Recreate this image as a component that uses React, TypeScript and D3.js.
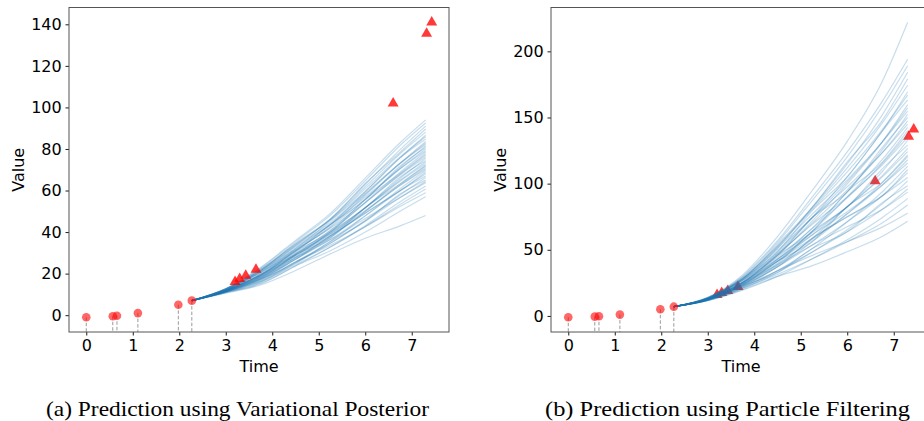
import React, { useEffect, useRef } from 'react';
import * as d3 from 'd3';

// observed points (circles with dashed stems)
const obsTimes = [0, 0.57, 0.66, 1.11, 1.98, 2.27];
const obsValues = [-1, -0.5, -0.3, 1, 5, 7];

// held-out future observations (triangles)
const futureTimes = [3.2, 3.3, 3.43, 3.65, 6.6, 7.32, 7.43];
const futureValues = [16, 17.5, 19, 22, 102, 135.5, 141];

// sampled trajectories: times after the last observation
const predTimes = [2.27, 3, 3.75, 4.5, 5.25, 6, 6.75, 7.3];

// (a) variational posterior samples, values at predTimes[1..]
const vpPaths: number[][] = [
  [11.0, 15.4, 23.7, 31, 40, 50, 57],
  [11.4, 17, 25.6, 33.7, 42.6, 52.3, 58.9],
  [11.2, 16.2, 24.3, 32.8, 42.6, 53.3, 60.7],
  [10.8, 15, 23.7, 32.8, 43.1, 54.6, 62.2],
  [11.8, 18.2, 27.6, 36.4, 46.5, 56.6, 63.7],
  [11.3, 16.6, 25.6, 34.6, 45.2, 56.6, 64.4],
  [11.6, 17.4, 25, 35.5, 45.2, 58.3, 65.1],
  [11, 15.8, 25, 34.6, 45.7, 57.9, 66.3],
  [12, 19, 28.9, 38.2, 49.1, 59.9, 67],
  [11.4, 17.4, 26.9, 36.4, 47.8, 59.9, 68.1],
  [11.2, 17.8, 26.9, 38.2, 49.1, 59.9, 68.8],
  [11.1, 16.2, 25.6, 35.5, 47.8, 60.9, 69.6],
  [12.2, 19.4, 29.5, 39.1, 50.4, 62.5, 70.3],
  [11.6, 18.2, 27.9, 37.8, 49.9, 62.5, 71.1],
  [11.8, 17.8, 28.9, 37.3, 51.7, 63.2, 71.8],
  [11.2, 17, 26.9, 37.3, 49.9, 63.2, 72.2],
  [12, 19.4, 29.5, 39.6, 51.7, 64.5, 72.9],
  [11.7, 18.6, 28.9, 39.1, 51.7, 64.9, 73.7],
  [11.4, 19, 28.2, 40, 51.7, 66.5, 74.4],
  [11.4, 17.4, 27.6, 38.2, 51.7, 65.8, 75.5],
  [12.4, 20.6, 31.5, 41.8, 54.3, 67.5, 76.2],
  [11.8, 19.4, 30.2, 40.7, 54, 67.8, 77],
  [12, 19, 30.8, 40, 55.6, 68.2, 77.7],
  [11.5, 18.2, 28.9, 40, 54.3, 68.8, 78.5],
  [12.6, 21.4, 32.8, 43.6, 56.9, 70.5, 79.2],
  [12, 19.8, 31.1, 42.2, 56.1, 70.5, 80],
  [11.8, 20.6, 30.8, 43.6, 55.6, 71.8, 80.7],
  [11.6, 18.6, 29.5, 40.9, 55.6, 71.1, 81.4],
  [12.6, 21.8, 33.4, 44.5, 58.7, 73.1, 82.2],
  [12.2, 20.6, 32.1, 43.6, 58.2, 73.1, 82.9],
  [11.8, 19.4, 30.8, 42.7, 57.7, 73.1, 83.6],
  [12.2, 21.4, 32.1, 45.4, 59.5, 75.7, 84.8],
  [12.7, 22.2, 34.1, 45.8, 60.8, 76.1, 85.9],
  [11.9, 19.8, 31.5, 43.6, 59.5, 75.7, 86.6],
  [12.4, 21.8, 34.1, 46.1, 61.8, 77.7, 88.1],
  [12.6, 21.4, 34.7, 46.3, 63.4, 78.4, 89.6],
  [12.2, 21, 33.4, 46.3, 62.9, 79.7, 91],
  [12.8, 22.6, 35.4, 48.1, 64.7, 81.7, 92.5],
  [12.7, 23, 36, 49, 66, 83, 94],
  [10.6, 14.5, 21.5, 29.5, 37, 43, 48],
];

// (b) particle filtering samples, values at predTimes[1..]
const pfPaths: number[][] = [
  [11.7, 20, 29.9, 38, 48.5, 60, 71.5],
  [12.2, 22.1, 34.2, 45.8, 56.1, 67.1, 77.6],
  [12, 21.1, 31.4, 43.2, 56.1, 70.2, 83.8],
  [11.5, 19.5, 29.9, 43.2, 57.6, 74.3, 88.7],
  [12.7, 23.7, 38.5, 53.6, 67.4, 80.4, 93.6],
  [12.1, 21.6, 34.2, 48.4, 63.6, 80.4, 96],
  [12.4, 22.7, 32.8, 51, 63.6, 85.5, 98.4],
  [11.7, 20.6, 32.8, 48.4, 65.1, 84.5, 102.1],
  [12.9, 24.8, 41.3, 58.8, 74.9, 90.6, 104.6],
  [12.2, 22.7, 37.1, 53.6, 71.2, 90.6, 108.3],
  [12, 23.2, 37.1, 58.8, 74.9, 90.6, 110.7],
  [11.8, 21.1, 34.2, 51, 71.2, 93.7, 113.2],
  [13.1, 25.3, 42.8, 61.4, 78.7, 98.8, 115.6],
  [12.4, 23.7, 39.3, 57.8, 77.2, 98.8, 118.1],
  [12.7, 23.2, 41.3, 56.2, 82.5, 100.8, 120.5],
  [12, 22.1, 37.1, 56.2, 77.2, 100.8, 121.7],
  [12.9, 25.3, 42.8, 63, 82.5, 104.9, 124.2],
  [12.5, 24.2, 41.3, 61.4, 82.5, 105.9, 126.6],
  [12.2, 24.8, 39.9, 64, 82.5, 111, 129.1],
  [12.2, 22.7, 38.5, 58.8, 82.5, 109, 132.8],
  [13.3, 26.9, 47, 69.2, 90, 114.1, 135.2],
  [12.7, 25.3, 44.2, 66.1, 89.3, 115.1, 137.7],
  [12.9, 24.8, 45.6, 64, 93.8, 116.1, 140.1],
  [12.3, 23.7, 41.3, 64, 90, 118.1, 142.6],
  [13.6, 27.9, 49.9, 74.4, 97.6, 123.2, 145],
  [12.9, 25.8, 46.2, 70.2, 95.3, 123.2, 147.5],
  [12.7, 26.9, 45.6, 74.4, 93.8, 127.3, 149.9],
  [12.4, 24.2, 42.8, 66.6, 93.8, 125.3, 152.4],
  [13.6, 28.4, 51.3, 77, 102.9, 131.4, 154.8],
  [13.1, 26.9, 48.5, 74.4, 101.4, 131.4, 157.3],
  [12.7, 25.3, 45.6, 71.8, 99.8, 131.4, 159.7],
  [13.1, 27.9, 48.5, 79.6, 105.1, 139.6, 163.4],
  [13.7, 28.9, 52.7, 80.6, 108.9, 140.6, 167],
  [12.8, 25.8, 47, 74.4, 105.1, 139.6, 169.5],
  [13.3, 28.4, 52.7, 81.7, 111.9, 145.7, 174.4],
  [13.6, 27.9, 54.2, 82.2, 116.5, 147.7, 179.3],
  [13.1, 27.4, 51.3, 82.2, 114.9, 151.8, 184.2],
  [13.8, 29.5, 55.6, 87.4, 120.2, 157.9, 189.1],
  [13.7, 30, 57, 90, 124, 162, 194],
  [14, 31, 60, 95, 132, 177, 222],
];

const xTicks = [0, 1, 2, 3, 4, 5, 6, 7];
const vpYTicks = [0, 20, 40, 60, 80, 100, 120, 140];
const pfYTicks = [0, 50, 100, 150, 200];

const captions = [
  '(a) Prediction using Variational Posterior',
  '(b) Prediction using Particle Filtering',
];

const SANS = "'DejaVu Sans', sans-serif";
const SERIF = "'Liberation Serif', 'Times New Roman', serif";

interface PanelOpts {
  left: number;
  paths: number[][];
  yTicks: number[];
  linesOver: boolean;
  caption: string;
  captionX: number;
  captionWidth: number;
}

function drawPanel(svg: d3.Selection<SVGSVGElement, unknown, null, undefined>, opts: PanelOpts) {
  const { left, paths, yTicks, linesOver } = opts;
  const top = 7.5;
  const bottom = 332;
  const width = 380;

  const start = obsValues[obsValues.length - 1];
  const series = paths.map(row => [start, ...row]);

  // matplotlib style 5% margins
  const tExt = d3.extent([...obsTimes, ...futureTimes, ...predTimes]) as [number, number];
  const tPad = (tExt[1] - tExt[0]) * 0.05;
  const vExt = d3.extent([...obsValues, ...futureValues, ...series.flat()]) as [number, number];
  const vPad = (vExt[1] - vExt[0]) * 0.05;

  const x = d3.scaleLinear().domain([tExt[0] - tPad, tExt[1] + tPad]).range([left, left + width]);
  const y = d3.scaleLinear().domain([vExt[0] - vPad, vExt[1] + vPad]).range([bottom, top]);

  const g = svg.append('g');

  // dashed stems under observed points
  g.selectAll('.stem')
    .data(obsTimes)
    .enter().append('line')
    .attr('x1', d => x(d))
    .attr('x2', d => x(d))
    .attr('y1', (d, i) => y(obsValues[i]))
    .attr('y2', bottom)
    .attr('stroke', '#9a9a9a')
    .attr('stroke-width', 1)
    .attr('stroke-dasharray', '3.5,2');

  const line = d3.line<number>()
    .x((d, i) => x(predTimes[i]))
    .y(d => y(d))
    .curve(d3.curveMonotoneX);

  const drawLines = () => {
    g.append('g').selectAll('path')
      .data(series)
      .enter().append('path')
      .attr('d', d => line(d))
      .attr('fill', 'none')
      .attr('stroke', '#1f77b4')
      .attr('stroke-opacity', 0.25)
      .attr('stroke-width', 1.2);
  };

  const drawTriangles = () => {
    g.append('g').selectAll('path')
      .data(futureTimes)
      .enter().append('path')
      .attr('d', d3.symbol(d3.symbolTriangle, 52)())
      .attr('transform', (d, i) => `translate(${x(d)},${y(futureValues[i])})`)
      .attr('fill', '#ff0000')
      .attr('fill-opacity', 0.78);
  };

  const drawCircles = () => {
    g.append('g').selectAll('circle')
      .data(obsTimes)
      .enter().append('circle')
      .attr('cx', d => x(d))
      .attr('cy', (d, i) => y(obsValues[i]))
      .attr('r', 4.3)
      .attr('fill', '#ff0000')
      .attr('fill-opacity', 0.6);
  };

  if (linesOver) {
    drawTriangles();
    drawLines();
    drawCircles();
  } else {
    drawLines();
    drawCircles();
    drawTriangles();
  }

  // axes
  const xAxis = g.append('g')
    .attr('transform', `translate(0,${bottom})`)
    .call(d3.axisBottom(x).tickValues(xTicks).tickSize(3.5).tickPadding(4).tickFormat(d3.format('d')));
  const yAxis = g.append('g')
    .attr('transform', `translate(${left},0)`)
    .call(d3.axisLeft(y).tickValues(yTicks).tickSize(3.5).tickPadding(3.8).tickFormat(d3.format('d')));

  [xAxis, yAxis].forEach(a => {
    a.select('.domain').remove();
    a.selectAll('text').style('font-family', SANS).style('font-size', '16px').attr('fill', '#000');
    a.selectAll('line').attr('stroke', '#000').attr('stroke-width', 0.9);
  });

  // frame
  g.append('rect')
    .attr('x', left)
    .attr('y', top)
    .attr('width', width)
    .attr('height', bottom - top)
    .attr('fill', 'none')
    .attr('stroke', '#555')
    .attr('stroke-width', 1);

  g.append('text')
    .attr('x', left + width / 2)
    .attr('y', 371.5)
    .attr('text-anchor', 'middle')
    .style('font-family', SANS)
    .style('font-size', '16px')
    .text('Time');

  g.append('text')
    .attr('transform', `translate(${left - 45},${(top + bottom) / 2}) rotate(-90)`)
    .attr('text-anchor', 'middle')
    .style('font-family', SANS)
    .style('font-size', '16px')
    .text('Value');

  svg.append('text')
    .attr('x', opts.captionX - opts.captionWidth / 2)
    .attr('y', 415.5)
    .attr('textLength', opts.captionWidth)
    .attr('lengthAdjust', 'spacingAndGlyphs')
    .style('font-family', SERIF)
    .style('font-size', '22px')
    .text(opts.caption);
}

export default function App() {
  const svgRef = useRef<SVGSVGElement>(null);

  useEffect(() => {
    if (!svgRef.current) return;
    const svg = d3.select(svgRef.current);
    svg.selectAll('*').remove();

    drawPanel(svg, { left: 69, paths: vpPaths, yTicks: vpYTicks, linesOver: false, caption: captions[0], captionX: 237.5, captionWidth: 383 });
    drawPanel(svg, { left: 551, paths: pfPaths, yTicks: pfYTicks, linesOver: true, caption: captions[1], captionX: 727.5, captionWidth: 365 });
  }, []);

  return (
    <svg
      ref={svgRef}
      width={924}
      height={421}
      style={{ position: 'absolute', left: 0, top: 0, background: '#fff' }}
    />
  );
}
